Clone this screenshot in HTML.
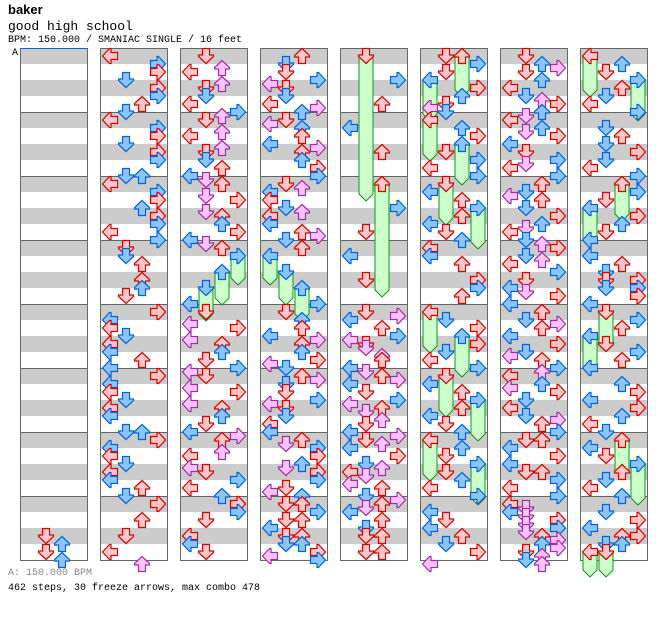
<!DOCTYPE html>
<html><head><meta charset="utf-8"><style>
body{margin:0;background:#fff;width:672px;height:620px;overflow:hidden;position:relative}
.t{position:absolute;left:8px;font-family:"Liberation Mono",monospace;white-space:pre;color:#000}
</style></head><body>
<div class="t" style="top:2px;font-family:'Liberation Sans',sans-serif;font-weight:bold;font-size:13px">baker</div>
<div class="t" style="top:19px;font-size:13px">good high school</div>
<div class="t" style="top:35px;font-size:10px">BPM: 150.000 / SMANIAC SINGLE / 16 feet</div>
<div class="t" style="top:48px;left:12px;font-size:10px">A</div>
<div class="t" style="top:568px;font-size:10px;color:#888">A: 150.000 BPM</div>
<div class="t" style="top:583px;font-size:10px">462 steps, 30 freeze arrows, max combo 478</div>
<svg id="s" width="672" height="620" style="position:absolute;left:0;top:0"></svg>
<script>
var D=[
"120D 124D 122U 126U",
"0L 2R 4R 6D 8R 10R 12U 14D 16L 18R 20R 22D 24R 26R 30D 30U 32L 34R 36R 38U 40R 42R 44L 46R 48D 50D 52U 56U 58U 60D 64R 66L 68L 70D 72L 74L 76U 78L 80R 82L 84L 86D 88L 90L 94D 94U 96R 98L 100L 102D 104L 106L 108U 110D 112R 116U 120D 124L 127U",
"0D 3U 4L 7U 8D 10D 12L 14R 15U 16D 19U 20L 23U 24D 26D 28U 30L 31D 32U 35D 36R 39D 40U 42U 44R 46L 47D 48U 50R-57 54U-62 58D-66 62L 64D 67L 68R 71L 72U 74U 76D 78R 79L 80D 83L 84R 87L 88U 90U 92D 94L 95R 96U 99U 100L 103L 104D 106R 108L 110U 112R 114R 116D 120L 122L 124D",
"0U 2D 4D 6R 7L 8D 10D 12L 13R 14U 16D 17L 18U 20U 22L 23R 24U 26U 28R 30R 32D 33U 34L 36L 38D 39U 40L 42L 44U 45R 46D 48U 50L-57 54D-62 58U-66 62R 64D 66U 68U 70L 71R 72U 74U 76R 77L 78D 80U 81R 82D 84D 86R 87L 88D 90D 92L 94L 96U 97D 98R 100R 102U 103D 104R 106R 108D 109L 110U 112D 112U 114R 116D 116U 118L 120D 120U 122D 122U 124R 125L 126R",
"0D-36 6R 12U 18L 24U 32U-60 38R 44D 50L 56D 64D 65R 66L 68U 70R 71L 72D 73D 75U 76U 78L 79D 80U 81R 82L 84D 86R 87L 88U 89D 91U 92D 94L 95R 96D 97U 98L 100R 102D 103U 104L 105D 107L 108U 110D 111R 112U 113D 114L 116U 118D 120D 120U 124D 124U",
"0D 0U-10 2R 4D 6L-16 8R 10U 12D 13L 14D 16L-26 18U 20R 22U-32 24D 26R 28L 30R 32D-42 34L 36U 38R-48 40U 42L 44D 46U 48L 50L 52U 56R 58R 60U 64L-74 66D 68R 70U-80 72R 74D 76L 78R 80D-90 82L 84U 86R-96 88U 90L 92D 94U 96L-106 98U 100D 102R-112 104D 106U 108L 110R 114L 116D 118L 120U 122D 124R 127L",
"0D 2U 3R 4D 6U 8L 10D 11U 12R 14U 15D 16L 18U 19D 20R 22L 24D 26R 27D 28L 30R 32U 34D 35L 36U 38D 40R 42U 43D 44L 46D 47U 48R 50D 51U 52L 54R 56D 58L 59D 60R 62L 64U 66D 67R 68U 70L 72R 74D 75L 76U 78R 79U 80L 82U 83L 84R 86D 88L 90D 91R 92U 94R 96D 96U 98L 100R 102L 104D 104U 106R 108L 110R 112L 113D 114L 115D 116R 117D 118R 119D 120U 121R 122U 123R 124D 125U 126D 127U",
"0L-10 2U 4D 6R-16 8U 10D 12L 14R 18D 20U 22D 24R 26D 28L 30R 32U-41 34R 36D 38L-47 40R 42U 44D 46L 50L 52U 54D 56D 56R 58R 58D 60R 62L 64D-73 66R 68U 70L-79 72D 74R 76U 78L 82U 84R 86L 88R 90U 92L 94D 96U-105 98L 100D 102R-112 104U 106D 108L 110U 114D 116R 118L 120U 120R 122D 122U 124L-130 124D-130"
];
var s=document.getElementById('s'),h='';
for(var c=0;c<8;c++){var bx=20+80*c;
 for(var r=0;r<16;r++)h+='<rect x="'+bx+'" y="'+(48+r*32)+'" width="68" height="16" fill="#cccccc"/>';
 for(var m=1;m<8;m++)h+='<line x1="'+bx+'" x2="'+(bx+68)+'" y1="'+(48.5+m*64)+'" y2="'+(48.5+m*64)+'" stroke="#666"/>';
 h+='<rect x="'+(bx+.5)+'" y="48.5" width="67" height="512" fill="none" stroke="#666"/>';
}
h+='<line x1="20" x2="88" y1="48.5" y2="48.5" stroke="#0a64d2"/>';
var fr='',ar='',rot={L:90,D:0,U:180,R:-90},ln={L:0,D:1,U:2,R:3};
var col=[["#ffc8c8","#dd0000"],["#8cc4ff","#0064dc"],["#ffc4ff","#a030a0"]];
for(var c=0;c<8;c++){D[c].split(' ').forEach(function(t){
 var m=t.match(/^(\d+)([LDUR])(?:-(\d+))?$/);if(!m)return;
 var k=+m[1],d=m[2],x=20+80*c+2+16*ln[d],y=48+4*k;
 var ci=k%4==0?0:(k%2==0?1:2),cc=col[ci];
 if(m[3]){var yt=48+4*(+m[3]);
  fr+='<polygon points="'+(x+1)+','+(y+8)+' '+(x+15)+','+(y+8)+' '+(x+15)+','+(yt+2)+' '+(x+8)+','+(yt+9)+' '+(x+1)+','+(yt+2)+'" fill="#ccffcc" stroke="#119911"/>';}
 ar+='<g transform="translate('+(x+8)+','+(y+8)+') rotate('+rot[d]+')"><polygon points="-3.5,-7.5 3.5,-7.5 3.5,-1 7.5,-1 7.5,0.5 0,7.5 -7.5,0.5 -7.5,-1 -3.5,-1" fill="'+cc[0]+'" stroke="'+cc[1]+'" stroke-width="1.2"/></g>';
});}
s.innerHTML=h+fr+ar;
</script>
</body></html>
